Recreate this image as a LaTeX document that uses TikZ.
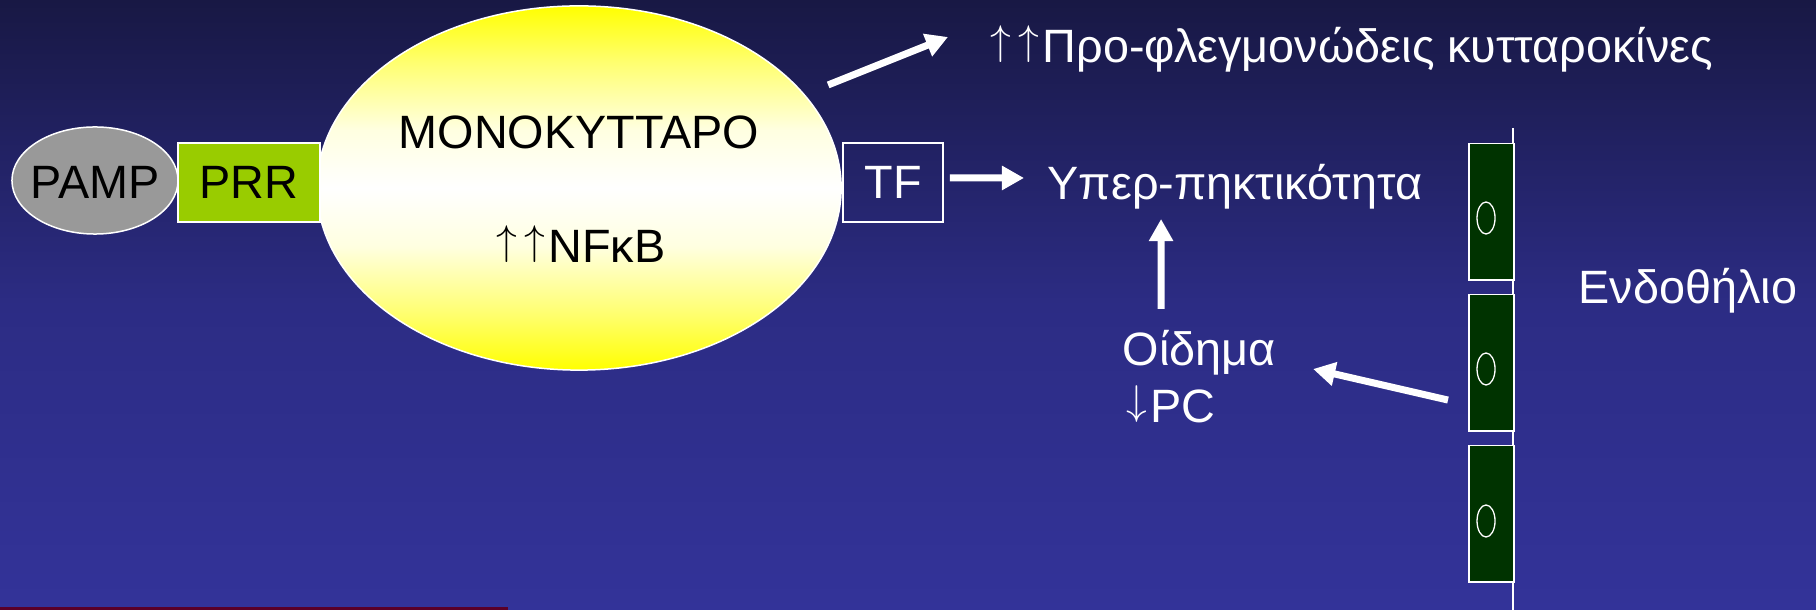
\documentclass[tikz,border=0pt]{standalone}
\usepackage{fontspec}
\setmainfont{Liberation Sans}
\usetikzlibrary{arrows.meta,shapes.geometric}
\definecolor{bgtop}{RGB}{24,24,68}
\definecolor{bgmid}{RGB}{44,44,132}
\definecolor{bgbot}{RGB}{51,51,153}
\definecolor{pampgray}{RGB}{153,153,153}
\definecolor{prrgreen}{RGB}{153,204,0}
\definecolor{endogreen}{RGB}{0,51,0}
\definecolor{footred}{RGB}{90,0,40}
\pgfdeclareverticalshading{cellshade}{100bp}{color(0bp)=(yellow); color(25bp)=(yellow);
  color(33bp)=(yellow!55!white); color(42bp)=(yellow!12!white); color(50bp)=(white);
  color(58bp)=(yellow!12!white); color(67bp)=(yellow!55!white); color(75bp)=(yellow); color(100bp)=(yellow)}
\newcommand{\myuparrow}{\makebox[0.6em]{\raisebox{\depth}{\scalebox{0.82}{$\uparrow$}}}}
\newcommand{\mydownarrow}{\makebox[0.6em]{\raisebox{\depth}{\scalebox{0.82}{$\downarrow$}}}}
\begin{document}
\begin{tikzpicture}[x=0.01cm,y=-0.01cm,
  lbl/.style={inner sep=0pt, font=\fontsize{13.3pt}{16pt}\selectfont},
  wlbl/.style={lbl, text=white, anchor=base west},
  arr/.style={draw=white, line width=0.07cm, -{Triangle[length=0.22cm,width=0.23cm]}},
  outline/.style={draw=white, line width=0.015cm},
  cellbox/.style={outline, fill=endogreen, minimum width=0.45cm, minimum height=1.36cm, inner sep=0pt, anchor=north west},
  nucleus/.style={draw=white, line width=0.013cm, ellipse, minimum width=0.18cm, minimum height=0.32cm, inner sep=0pt}]
\useasboundingbox (0,0) rectangle (1816,610);
\shade[top color=bgtop, bottom color=bgbot, middle color=bgmid] (0,0) rectangle (1816,610);
\fill[footred] (0,607) rectangle (508,610);

% monocyte
\node[ellipse, outline, shading=cellshade,
      minimum width=5.24cm, minimum height=3.64cm, inner sep=0pt] (mono) at (579,188) {};
\node[lbl, anchor=base] (monotitle) at (579,149) {ΜΟΝΟΚΥΤΤΑΡΟ};
\node[lbl, anchor=base] (nfkb) at (579,263) {\myuparrow\myuparrow NFκB};

% PAMP / PRR
\node[ellipse, outline, fill=pampgray, minimum width=1.66cm, minimum height=1.07cm,
      inner sep=0pt] (pamp) at (95,180.5) {};
\node[lbl, anchor=base] (pamptext) at (95,199) {PAMP};
\node[rectangle, outline, fill=prrgreen, minimum width=1.42cm, minimum height=0.79cm,
      inner sep=0pt, lbl] (prr) at (249,182.5) {PRR};

% TF
\node[rectangle, outline, minimum width=1.00cm, minimum height=0.79cm,
      inner sep=0pt, lbl, text=white] (tf) at (893,182.5) {TF};

% texts
\node[wlbl] (cyto) at (986,63) {\myuparrow\myuparrow Προ-φλεγμονώδεις κυτταροκίνες};
\node[wlbl] (hyper) at (1047,200) {Υπερ-πηκτικότητα};
\node[wlbl] (oid) at (1122,366) {Οίδημα};
\node[wlbl] (pc) at (1122,423) {\mydownarrow PC};
\node[wlbl] (endo) at (1578,304) {Ενδοθήλιο};

% endothelium
\coordinate (wtop) at (1513,128);
\coordinate (wbot) at (1513,610);
\draw[outline] (wtop) -- (wbot);
\node[cellbox] (c1) at (1468,143) {};
\node[cellbox] (c2) at (1468,294) {};
\node[cellbox] (c3) at (1468,445) {};
\node[nucleus] (n1) at (1486,218) {};
\node[nucleus] (n2) at (1486,369) {};
\node[nucleus] (n3) at (1486,521) {};

% arrows
\draw[arr] ([xshift=2.49cm,yshift=1.03cm]mono.center) -- ([xshift=-0.38cm,yshift=0.26cm]cyto.base west);
\draw[arr] ([xshift=0.06cm,yshift=0.045cm]tf.east) -- ([xshift=-0.23cm,yshift=0.22cm]hyper.base west);
\draw[arr] ([xshift=0.39cm,yshift=0.57cm]oid.base west) -- ([xshift=1.14cm,yshift=-0.19cm]hyper.base west);
\draw[arr] ([xshift=-0.20cm,yshift=-1.06cm]c2.north west) -- ([xshift=1.91cm,yshift=-0.03cm]oid.base west);
\end{tikzpicture}
\end{document}
